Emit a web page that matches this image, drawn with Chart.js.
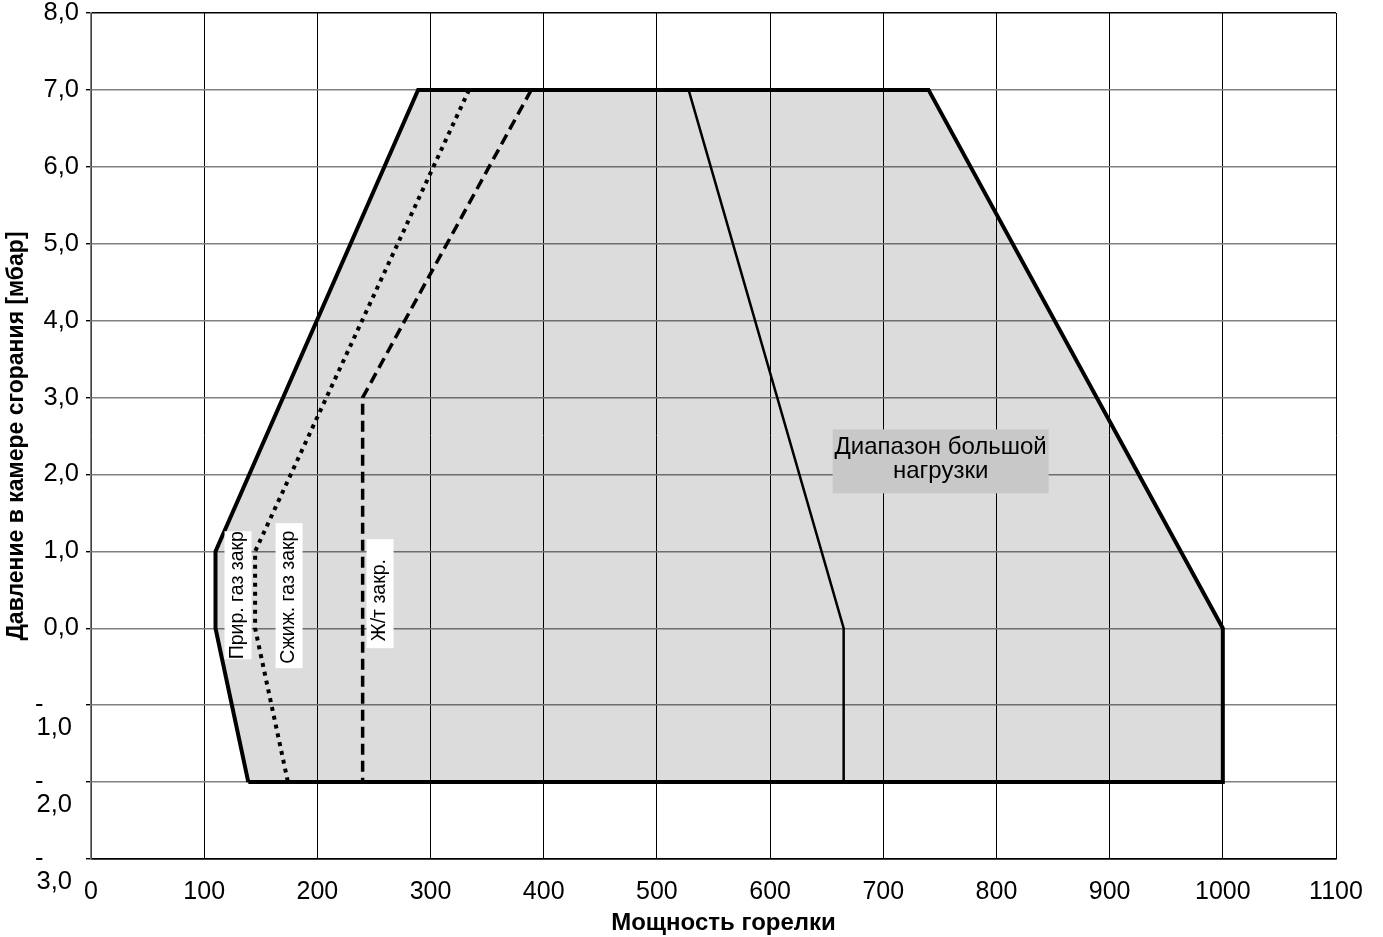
<!DOCTYPE html>
<html>
<head>
<meta charset="utf-8">
<script src="https://cdn.jsdelivr.net/npm/chart.js@4.4.1/dist/chart.umd.min.js"></script>
<style>
  html, body { margin: 0; padding: 0; background: #fff; }
  #wrap { width: 1383px; height: 937px; }
</style>
</head>
<body>
<div id="wrap"><canvas id="c" width="1383" height="937"></canvas></div>
<script>
// ---- data ----
const outerX = [139, 110, 110, 289, 740, 1000, 1000, 139];
const outerY = [-2, 0, 1, 7, 7, 0, -2, -2];

const gasX = [334, 145, 145, 174];     // dotted
const gasY = [7, 1, 0, -2];

const oilX = [389, 240, 240];          // dashed
const oilY = [7, 3, -2];

const highX = [528, 665, 665];         // thin solid
const highY = [7, 0, -2];

const xMin = 0, xMax = 1100, xStep = 100;
const yMin = -3, yMax = 8, yStep = 1;

const xTitle = 'Мощность горелки';
const yTitle = 'Давление в камере сгорания [мбар]';

const verticalLabels = [
  { text: 'Прир. газ закр', x: 129.9, y: 0.43 },
  { text: 'Сжиж. газ закр', x: 175.0, y: 0.424 },
  { text: 'Ж/т закр.', x: 255.4, y: 0.45 }
];
const verticalLabelBoxes = [
  { len: 128, shift: 0 },
  { len: 145, shift: 1.5 },
  { len: 109, shift: 6.5 }
];
const rangeLabelLines = ['Диапазон большой', 'нагрузки'];
const rangeLabelPos = { x: 750.7, y: 2.17 };

function pts(xs, ys) { return xs.map((x, i) => ({ x: x, y: ys[i] })); }
function fmt(v) { return Math.abs(v).toFixed(1).replace('.', ','); }

const FONT = '"Liberation Sans", Arial, Helvetica, sans-serif';

const annotPlugin = {
  id: 'annot',
  afterDraw(chart) {
    const ctx = chart.ctx;
    const xs = chart.scales.x, ys = chart.scales.y;
    ctx.save();
    ctx.font = '19.5px ' + FONT;
    verticalLabels.forEach((l, i) => {
      const bx = verticalLabelBoxes[i];
      const px = xs.getPixelForValue(l.x), py = ys.getPixelForValue(l.y);
      const w = bx.len;
      const h = 27;
      ctx.save();
      ctx.translate(px, py);
      ctx.rotate(-Math.PI / 2);
      ctx.fillStyle = '#ffffff';
      ctx.fillRect(-w / 2, -h / 2, w, h);
      ctx.fillStyle = '#000000';
      ctx.textAlign = 'center';
      ctx.textBaseline = 'middle';
      ctx.fillText(l.text, -bx.shift, 0);
      ctx.restore();
    });
    // range box
    const cx = xs.getPixelForValue(rangeLabelPos.x), cy = ys.getPixelForValue(rangeLabelPos.y);
    const bw = 216, bh = 64;
    ctx.fillStyle = '#c8c8c8';
    ctx.fillRect(cx - bw / 2, cy - bh / 2, bw, bh);
    ctx.fillStyle = '#000';
    ctx.font = '24px ' + FONT;
    ctx.textAlign = 'center';
    ctx.textBaseline = 'middle';
    ctx.fillText(rangeLabelLines[0], cx, cy - 14);
    ctx.fillText(rangeLabelLines[1], cx, cy + 10);
    ctx.restore();
  }
};

const bgPlugin = {
  id: 'bg',
  beforeDraw(chart) {
    const ctx = chart.ctx;
    ctx.save();
    ctx.fillStyle = '#fff';
    ctx.fillRect(0, 0, chart.width, chart.height);
    ctx.restore();
  }
};

new Chart(document.getElementById('c'), {
  type: 'scatter',
  data: {
    datasets: [
      { data: pts(highX, highY), showLine: true, borderColor: '#000', borderWidth: 2.5, pointRadius: 0, fill: false },
      { data: pts(oilX, oilY), showLine: true, borderColor: '#000', borderWidth: 3.5, borderDash: [11, 6], pointRadius: 0, fill: false },
      { data: pts(gasX, gasY), showLine: true, borderColor: '#000', borderWidth: 4, borderDash: [4, 5], pointRadius: 0, fill: false },
      { data: pts(outerX, outerY), showLine: true, borderColor: '#000', borderWidth: 4, borderJoinStyle: 'miter',
        backgroundColor: 'rgba(0,0,0,0.137)', fill: 'shape', pointRadius: 0 }
    ]
  },
  options: {
    responsive: false,
    animation: false,
    devicePixelRatio: 1,
    layout: { padding: { left: 0, right: 47, top: 13, bottom: 0 } },
    plugins: { legend: { display: false }, tooltip: { enabled: false } },
    elements: { line: { tension: 0 } },
    scales: {
      x: {
        type: 'linear', min: xMin, max: xMax,
        ticks: { stepSize: xStep, color: '#000', padding: 18, maxRotation: 0,
                 font: { family: FONT, size: 25 },
                 callback: (v) => String(v) },
        grid: { color: '#000', lineWidth: 1, drawTicks: false },
        border: { color: '#000', width: 1.5 },
        title: { display: true, text: '   ' + xTitle, color: '#000',
                 font: { family: FONT, size: 24, weight: 'bold' }, padding: { top: 0, bottom: -1 } },
        afterFit(s) { s.height = 78; }
      },
      y: {
        type: 'linear', min: yMin, max: yMax,
        ticks: { stepSize: yStep, color: '#000', padding: 7,
                 font: { family: FONT, size: 25.5, lineHeight: 0.9 },
                 callback: (v) => v < 0 ? ['', '-     ', fmt(v) + ' '] : fmt(v) },
        grid: {
          color: (c) => (c.tick && (c.tick.value === yMax || c.tick.value === yMin)) ? '#000' : '#808080',
          lineWidth: 1.4, tickLength: 5, tickColor: '#000'
        },
        border: { color: '#808080', width: 1.5 },
        title: { display: true, text: yTitle, color: '#000',
                 font: { family: FONT, size: 23, weight: 'bold' }, padding: { top: 3, bottom: 0 } },
        afterFit(s) { s.width = 91; s.paddingTop = 0; s.paddingBottom = 0; }
      }
    }
  },
  plugins: [bgPlugin, annotPlugin]
});
</script>
</body>
</html>
